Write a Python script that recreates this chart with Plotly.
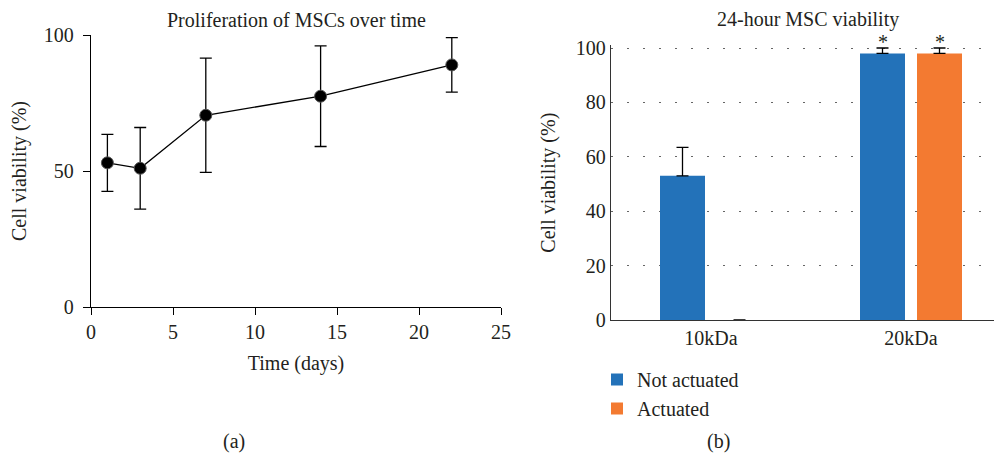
import plotly.graph_objects as go

# Panel (a) data
days = [1, 3, 7, 14, 22]
viability = [53, 51, 70.5, 77.5, 89]
viability_err = [10.5, 15, 21, 18.5, 10]

# Panel (b) data
categories = ["10kDa", "20kDa"]
not_actuated = [53, 98]
not_actuated_err = [10.5, 2]
actuated = [0, 98]
actuated_err = [0, 2]

# page body has an 8px default margin; lay out in screen pixels and compensate
OFF = 8
W, H = 1002 - OFF, 462 - OFF
FONT = "Liberation Serif"
FS = 20
TXT = "#231f20"

def px_x(p):
    return (p - OFF) / W

def px_y(p):
    return 1 - (p - OFF) / H

fig = go.Figure()

fig.add_trace(go.Scatter(
    x=days, y=viability, mode="lines+markers",
    line=dict(color="black", width=1.3),
    marker=dict(color="black", size=12, line=dict(color="#555", width=1)),
    error_y=dict(type="data", array=viability_err, visible=True,
                 color="black", thickness=1.3, width=6),
    showlegend=False, xaxis="x", yaxis="y",
))

fig.add_trace(go.Bar(
    x=categories, y=not_actuated, name="Not actuated",
    marker=dict(color="#2372b9", line=dict(width=0)),
    width=0.225, offset=-0.255,
    error_y=dict(type="data", array=not_actuated_err, arrayminus=[0, 0], symmetric=False,
                 visible=True, color="black", thickness=1.3, width=6),
    xaxis="x2", yaxis="y2",
))
fig.add_trace(go.Bar(
    x=categories, y=actuated, name="Actuated",
    marker=dict(color="#f37a31", line=dict(width=0)),
    width=0.225, offset=0.03,
    error_y=dict(type="data", array=actuated_err, arrayminus=[0, 0], symmetric=False,
                 visible=True, color="black", thickness=1.3, width=6),
    xaxis="x2", yaxis="y2",
))

axis_font = dict(family=FONT, size=FS, color=TXT)

Y2TOP = 101  # small headroom so the 100 gridline is drawn
fig.update_layout(
    width=W, height=H,
    margin=dict(l=0, r=0, t=0, b=0, autoexpand=False),
    paper_bgcolor="white", plot_bgcolor="white",
    font=dict(family=FONT, size=FS, color=TXT),
    barmode="group",
    xaxis=dict(domain=[px_x(91), px_x(501)], range=[0, 25], tickvals=[0, 5, 10, 15, 20, 25],
               showline=True, linecolor="black", linewidth=1.3, ticks="outside", ticklen=7,
               tickcolor="black", tickwidth=1.3, showgrid=False, zeroline=False,
               tickfont=axis_font, anchor="y", automargin=False,
               title=dict(text="Time (days)", font=axis_font, standoff=13)),
    yaxis=dict(domain=[px_y(307), px_y(35)], range=[0, 100], tickvals=[0, 50, 100],
               showline=True, linecolor="black", linewidth=1.3, ticks="outside", ticklen=7,
               tickcolor="black", tickwidth=1.3, showgrid=False, zeroline=False,
               tickfont=axis_font, anchor="x", automargin=False, ticklabelstandoff=5,
               title=dict(text="Cell viability (%)", font=axis_font, standoff=12)),
    xaxis2=dict(domain=[px_x(611), 1.0], range=[-0.5, 1.455], type="category",
                showline=True, linecolor="#333", linewidth=1.3, ticks="", showgrid=False,
                zeroline=False, tickfont=axis_font, anchor="y2", automargin=False),
    yaxis2=dict(domain=[px_y(320), px_y(48 - 2.72 * (Y2TOP - 100))], range=[0, Y2TOP],
                tickvals=[0, 20, 40, 60, 80, 100],
                showline=True, linecolor="#333", linewidth=1.3, ticks="", showgrid=True,
                gridcolor="#666", griddash="2px,14px", gridwidth=1, zeroline=False,
                tickfont=axis_font, anchor="x2", automargin=False,
                title=dict(text="Cell viability (%)", font=axis_font, standoff=14)),
    legend=dict(x=px_x(597), y=px_y(360), xanchor="left", yanchor="top",
                font=axis_font, bgcolor="rgba(0,0,0,0)", borderwidth=0,
                tracegroupgap=0, itemsizing="constant"),
    annotations=[
        dict(text="Proliferation of MSCs over time", x=px_x(296), y=px_y(20), xref="paper",
             yref="paper", showarrow=False, font=axis_font, xanchor="center", yanchor="middle",
             borderpad=0),
        dict(text="24-hour MSC viability", x=px_x(808), y=px_y(20), xref="paper",
             yref="paper", showarrow=False, font=axis_font, xanchor="center", yanchor="middle",
             borderpad=0),
        dict(text="(a)", x=px_x(234), y=px_y(441), xref="paper", yref="paper",
             showarrow=False, font=axis_font, xanchor="center", yanchor="middle"),
        dict(text="(b)", x=px_x(718), y=px_y(441), xref="paper", yref="paper",
             showarrow=False, font=axis_font, xanchor="center", yanchor="middle"),
        dict(text="*", x=1 - 0.1425, y=px_y(42), xref="x2", yref="paper", showarrow=False,
             font=axis_font, xanchor="center", yanchor="middle"),
        dict(text="*", x=1 + 0.1425, y=px_y(42), xref="x2", yref="paper", showarrow=False,
             font=axis_font, xanchor="center", yanchor="middle"),
    ],
)

fig.write_html("out.html")
